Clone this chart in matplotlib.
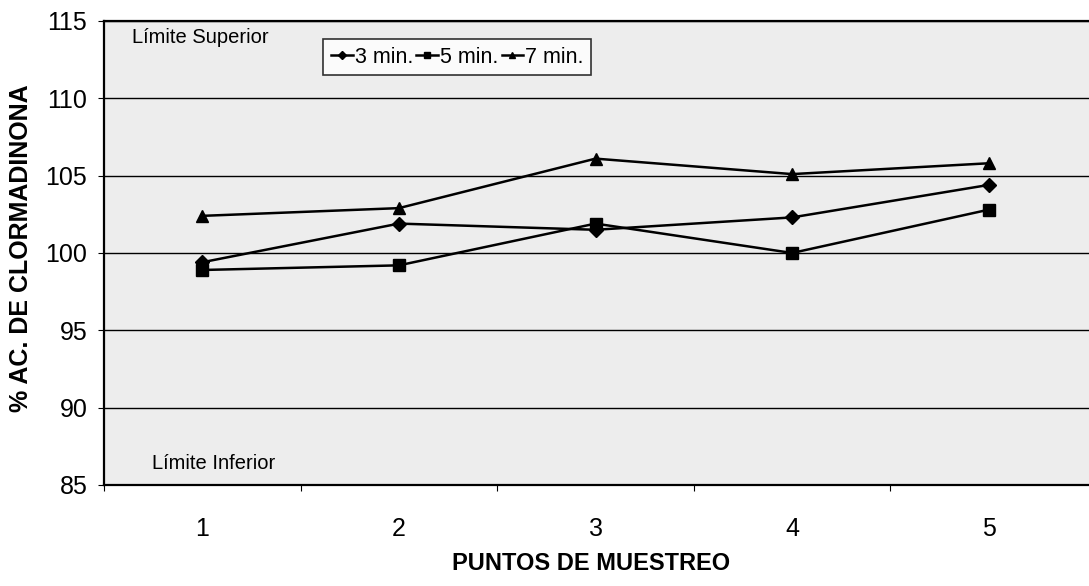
import matplotlib
matplotlib.use("Agg")
import matplotlib.pyplot as plt
from matplotlib.ticker import FixedLocator

plt.rcParams.update({"font.family": ["Liberation Sans", "DejaVu Sans"]})

puntos = [1, 2, 3, 4, 5]
min3 = [99.4, 101.9, 101.5, 102.3, 104.4]
min5 = [98.9, 99.2, 101.9, 100.0, 102.8]
min7 = [102.4, 102.9, 106.1, 105.1, 105.8]
series = [("3 min.", min3, "D"), ("5 min.", min5, "s"), ("7 min.", min7, "^")]
yticks = [85, 90, 95, 100, 105, 110, 115]

fig = plt.figure(figsize=(10.89, 5.86), dpi=100)
ax = fig.add_axes([0.0955, 0.1724, 0.9045, 0.7918])
ax.set_facecolor("#ededed")

for lab, ys, mk in series:
    ax.plot(puntos, ys, color="black", linewidth=1.8, marker=mk,
            markersize=8 if mk != "D" else 7, label=lab, zorder=3)

ax.set_xlim(0.5, 5.51)
ax.set_ylim(85, 115)
ax.set_yticks(yticks)
ax.set_yticklabels([str(v) for v in yticks], fontsize=18)
ax.set_xticks(puntos)
ax.set_xticklabels([str(p) for p in puntos], fontsize=18)
ax.tick_params(axis="x", length=0, pad=23)
ax.xaxis.set_minor_locator(FixedLocator([0.5, 1.5, 2.5, 3.5, 4.5]))
ax.tick_params(axis="x", which="minor", length=4, direction="out", width=0.8)
ax.tick_params(axis="y", length=4, direction="out", width=0.8, pad=8)
ax.grid(axis="y", color="black", linewidth=1.0)
ax.set_axisbelow(True)
for s in ["left", "bottom", "top"]:
    ax.spines[s].set_linewidth(1.6)
ax.spines["right"].set_visible(False)

ax.text(0.64, 113.95, "Límite Superior", fontsize=14.5, va="center", ha="left")
ax.text(0.745, 86.4, "Límite Inferior", fontsize=14.5, va="center", ha="left")

leg = ax.legend(loc="upper left", bbox_to_anchor=(0.2228, 0.961), ncol=3,
                frameon=True, fancybox=False, edgecolor="black", fontsize=15.5,
                handlelength=1.0, handletextpad=0.1, columnspacing=0.15,
                borderpad=0.35, borderaxespad=0, markerscale=0.55)
leg.get_frame().set_linewidth(1.2)
leg.get_frame().set_facecolor("white")

ax.set_ylabel("% AC. DE CLORMADINONA", fontsize=18, fontweight="bold")
ax.yaxis.set_label_coords(-0.072, 0.51)
fig.text(0.543, 0.027, "PUNTOS DE MUESTREO", fontsize=17, fontweight="bold", ha="center")

fig.savefig("out.png", dpi=100)
